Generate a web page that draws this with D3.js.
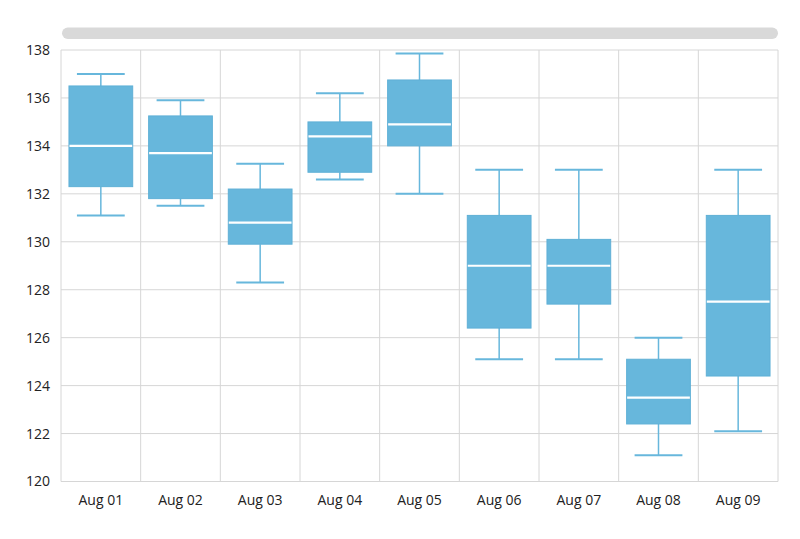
<!DOCTYPE html>
<html><head><meta charset="utf-8">
<script src="https://cdn.jsdelivr.net/npm/d3@7"></script>
<style>body{margin:0;background:#fff}svg{display:block}text{font-family:"Open Sans","Noto Sans",sans-serif;}</style>
</head><body><svg id="c" width="800" height="539"></svg>
<script>
const categories = ["Aug 01","Aug 02","Aug 03","Aug 04","Aug 05","Aug 06","Aug 07","Aug 08","Aug 09"];
const lowValues    = [131.1, 131.5, 128.3, 132.6, 132.0, 125.1, 125.1, 121.1, 122.1];
const q1Values     = [132.3, 131.8, 129.9, 132.9, 134.0, 126.4, 127.4, 122.4, 124.4];
const medianValues = [134.0, 133.7, 130.8, 134.4, 134.9, 129.0, 129.0, 123.5, 127.5];
const q3Values     = [136.5, 135.25, 132.2, 135.0, 136.75, 131.1, 130.1, 125.1, 131.1];
const highValues   = [137.0, 135.9, 133.25, 136.2, 137.85, 133.0, 133.0, 126.0, 133.0];
const yTicks = [120,122,124,126,128,130,132,134,136,138];

const svg = d3.select("#c");
const L = 61, R = 778, T = 50, B = 481.5;
const x = d3.scaleBand().domain(categories).range([L, R]).padding(0);
const y = d3.scaleLinear().domain([120, 138]).range([B, T]);
const color = "#67b7dc";
const font = '"Open Sans","Noto Sans",sans-serif';

// scrollbar
svg.append("rect").attr("x", 62).attr("y", 27.5).attr("width", 716).attr("height", 11.5)
  .attr("rx", 5.75).attr("fill", "#d9d9d9");

// grid
const g = svg.append("g");
g.selectAll("line.h").data(yTicks).join("line")
  .attr("x1", L).attr("x2", R).attr("y1", d => y(d)).attr("y2", d => y(d))
  .attr("stroke", "#d6d6d6").attr("stroke-width", 1);
const bounds = categories.map(c => x(c)).concat([R]);
g.selectAll("line.v").data(bounds).join("line")
  .attr("x1", d => d).attr("x2", d => d).attr("y1", T).attr("y2", B)
  .attr("stroke", "#d6d6d6").attr("stroke-width", 1);

// y axis labels
const yAxis = d3.axisLeft(y).tickValues(yTicks).tickSize(0).tickPadding(11);
const ya = svg.append("g").attr("transform", `translate(${L},0)`).call(yAxis)
  .attr("font-size", 14).attr("font-family", font);
ya.select(".domain").remove();
ya.selectAll("text").attr("fill", "#222");

// x axis labels
const xAxis = d3.axisBottom(x).tickSize(0).tickPadding(14);
const xa = svg.append("g").attr("transform", `translate(0,${B})`).call(xAxis)
  .attr("font-size", 14).attr("font-family", font);
xa.select(".domain").remove();
xa.selectAll("text").attr("fill", "#222");

// boxes
const data = categories.map((c, i) => ({c, lo: lowValues[i], q1: q1Values[i], med: medianValues[i], q3: q3Values[i], hi: highValues[i]}));
const bw = x.bandwidth();
const boxW = bw * 0.8, capW = bw * 0.6;
const gb = svg.append("g");
const item = gb.selectAll("g").data(data).join("g");
const cx = d => x(d.c) + bw / 2;
item.append("line").attr("x1", cx).attr("x2", cx).attr("y1", d => y(d.hi)).attr("y2", d => y(d.q3))
  .attr("stroke", color).attr("stroke-width", 1.5);
item.append("line").attr("x1", cx).attr("x2", cx).attr("y1", d => y(d.q1)).attr("y2", d => y(d.lo))
  .attr("stroke", color).attr("stroke-width", 1.5);
item.append("line").attr("x1", d => cx(d) - capW/2).attr("x2", d => cx(d) + capW/2).attr("y1", d => y(d.hi)).attr("y2", d => y(d.hi))
  .attr("stroke", color).attr("stroke-width", 2);
item.append("line").attr("x1", d => cx(d) - capW/2).attr("x2", d => cx(d) + capW/2).attr("y1", d => y(d.lo)).attr("y2", d => y(d.lo))
  .attr("stroke", color).attr("stroke-width", 2);
item.append("rect").attr("x", d => cx(d) - boxW/2).attr("width", boxW)
  .attr("y", d => y(d.q3)).attr("height", d => y(d.q1) - y(d.q3))
  .attr("fill", color).attr("stroke", "#5fb0d6").attr("stroke-width", 1);
item.append("line").attr("x1", d => cx(d) - boxW/2 + 0.5).attr("x2", d => cx(d) + boxW/2 - 0.5)
  .attr("y1", d => y(d.med)).attr("y2", d => y(d.med))
  .attr("stroke", "#fff").attr("stroke-width", 2.2);
</script></body></html>
